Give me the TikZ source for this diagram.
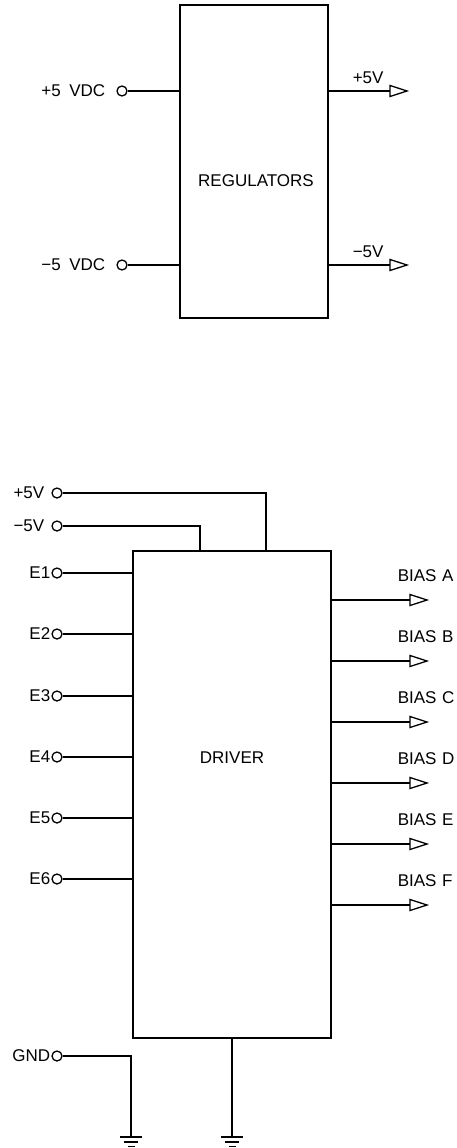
\documentclass[tikz,border=0pt]{standalone}
\usepackage{fontspec}
\setmainfont{Liberation Sans}
\begin{document}
\begin{tikzpicture}[x=1pt,y=-1pt,line width=1.5pt,
  term/.style={circle,draw,line width=1.3pt,minimum size=10pt,inner sep=0pt},
  box/.style={draw,line width=1.5pt},
  lbl/.style={font=\fontsize{17}{19}\selectfont,inner sep=0pt},
  gnd/.pic={\draw (-11,0) -- (11,0); \draw (-7,5) -- (7,5); \draw (-3.5,9.5) -- (3.5,9.5);},
  tri/.pic={\draw[line width=1.3pt,line join=miter] (0,0) -- (0,-5.5) -- (17,0) -- (0,5.5) -- cycle;}
]
\useasboundingbox (0,0) rectangle (456,1148);
% ---------- Regulators ----------
\draw[box] (180,5) rectangle (328,318);
\node[lbl] (reg) at (256,181) {REGULATORS};
\node[term] (p5) at (122,91) {};
\node[term] (m5) at (122,265) {};
\node[lbl,anchor=east] (p5l) at (106,91) {+5\,\,\,VDC};
\node[lbl,anchor=east] (m5l) at (106,265) {−5\,\,\,VDC};
\coordinate (rin1) at (180,91);
\coordinate (rin2) at (180,265);
\draw (p5) -- (rin1);
\draw (m5) -- (rin2);
\coordinate (rout1) at (328,91);
\coordinate (rout2) at (328,265);
\coordinate (ra1) at (390,91);
\coordinate (ra2) at (390,265);
\draw (rout1) -- (ra1);
\draw (rout2) -- (ra2);
\pic at (ra1) {tri};
\pic at (ra2) {tri};
\node[lbl,anchor=west] (o1) at (352,78) {+5V};
\node[lbl,anchor=west] (o2) at (352,252) {−5V};
% ---------- Driver ----------
\draw[box] (133,551) rectangle (331,1038);
\node[lbl] (drv) at (232,758) {DRIVER};
\node[term] (dp) at (57,493) {};
\node[term] (dm) at (57,526) {};
\node[lbl,anchor=east] at (45,493) {+5V};
\node[lbl,anchor=east] at (45,526) {−5V};
\coordinate (dpt) at (266,551);
\coordinate (dmt) at (200,551);
\draw (dp) -- (266,493) -- (dpt);
\draw (dm) -- (200,526) -- (dmt);
\foreach \i/\y in {1/573,2/634,3/696,4/757,5/818,6/879}{
  \node[term] (e\i) at (57,\y) {};
  \node[lbl,anchor=east] at (51,\y) {E\i};
  \coordinate (ein\i) at (133,\y);
  \draw (e\i) -- (ein\i);
}
\foreach \l/\y in {A/600,B/661,C/722,D/783,E/844,F/905}{
  \coordinate (bo\l) at (331,\y);
  \coordinate (ba\l) at (410,\y);
  \draw (bo\l) -- (ba\l);
  \pic at (ba\l) {tri};
  \node[lbl,anchor=west] at (397,\y-24) {BIAS\,\,\l};
}
% ---------- Ground ----------
\node[term] (g) at (57,1056) {};
\node[lbl,anchor=east] at (51,1056) {GND};
\coordinate (g1) at (131,1137);
\coordinate (g2b) at (232,1038);
\coordinate (g2) at (232,1137);
\draw (g) -- (131,1056) -- (g1);
\draw (g2b) -- (g2);
\pic at (g1) {gnd};
\pic at (g2) {gnd};
\end{tikzpicture}
\end{document}
